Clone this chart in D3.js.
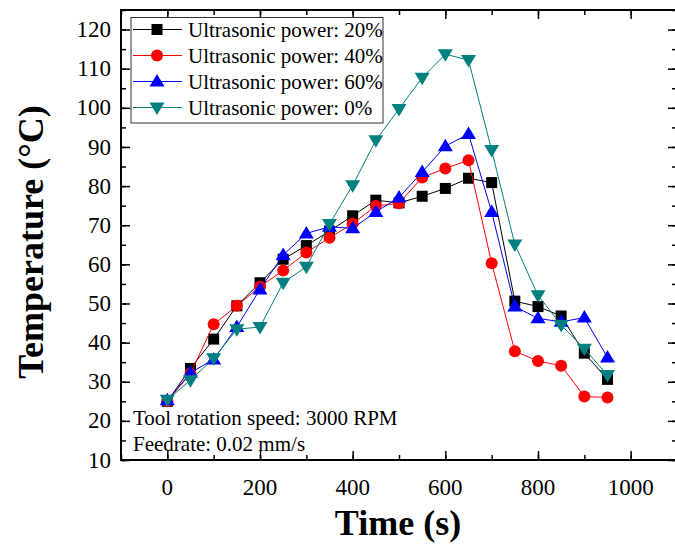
<!DOCTYPE html>
<html>
<head>
<meta charset="utf-8">
<script src="https://cdn.jsdelivr.net/npm/d3@7/dist/d3.min.js"></script>
<style>
  body { margin: 0; background: #fff; }
  svg { display: block; font-family: "Liberation Serif", "Times New Roman", serif; }
</style>
</head>
<body>
<svg id="chart" width="675" height="550"></svg>
<script>
// time (s)
var times = [0, 50, 100, 150, 200, 250, 300, 350, 400, 450, 500, 550, 600, 650, 700, 750, 800, 850, 900, 950];

var power20 = [25, 33.4, 40.9, 49.4, 55.3, 61.3, 64.8, 68.5, 72.4, 76.4, 75.7, 77.4, 79.4, 82, 80.9, 50.6, 49.2, 46.8, 37.3, 30.6];
var power40 = [25, 32.1, 44.7, 49.4, 54.3, 58.4, 63, 66.8, 70.4, 74.9, 75.6, 82.2, 84.5, 86.6, 60.3, 37.8, 35.3, 34.1, 26.2, 26];
var power60 = [25.3, 32.3, 35.7, 44, 53.6, 62.4, 67.9, 69.6, 69.2, 73.4, 77.1, 83.6, 90.2, 93.3, 73.4, 49.2, 46.2, 45.3, 46.4, 36.2];
var power0  = [25.4, 30.4, 36, 43.4, 44, 55.3, 59.4, 70.3, 80.2, 91.7, 99.7, 107.7, 113.7, 112.2, 89.2, 65.1, 52.1, 44.5, 38.4, 31.7];

var seriesNames = ["Ultrasonic power: 20%", "Ultrasonic power: 40%", "Ultrasonic power: 60%", "Ultrasonic power: 0%"];
var seriesColors = ["#000000", "#ff0000", "#0000ff", "#008080"];
var seriesSymbols = ["square", "circle", "triangle", "triangleDown"];

var xTicks = [0, 200, 400, 600, 800, 1000];
var yTicks = [10, 20, 30, 40, 50, 60, 70, 80, 90, 100, 110, 120];

var notes = ["Tool rotation speed: 3000 RPM", "Feedrate: 0.02 mm/s"];

drawChart();

function drawChart() {

    var svg = d3.select("#chart"),
        plotLeft = 121, plotRight = 677, plotTop = 10, plotBottom = 460;

    var x = d3.scaleLinear().domain([-100, 1100]).range([plotLeft, plotRight]);
    var y = d3.scaleLinear().domain([10, 125]).range([plotBottom, plotTop]);

    var series = [power20, power40, power60, power0].map(function (vals, i) {
        return {
            name: seriesNames[i], color: seriesColors[i], symbol: seriesSymbols[i],
            points: vals.map(function (v, j) { return {t: times[j], v: v}; })
        };
    });

    // axes, ticks pointing inward on all four sides
    var xMinor = d3.range(-100, 1101, 100);
    var yMinor = d3.range(10, 126, 5);

    svg.append("g")
        .attr("transform", "translate(0," + plotBottom + ")")
        .call(d3.axisTop(x).tickValues(xMinor).tickSize(5).tickFormat(""));
    svg.append("g")
        .attr("transform", "translate(0," + plotBottom + ")")
        .call(d3.axisTop(x).tickValues(xTicks).tickSize(9).tickFormat(""));
    svg.append("g")
        .attr("transform", "translate(0," + plotTop + ")")
        .call(d3.axisBottom(x).tickValues(xMinor).tickSize(5).tickFormat(""));
    svg.append("g")
        .attr("transform", "translate(0," + plotTop + ")")
        .call(d3.axisBottom(x).tickValues(xTicks).tickSize(9).tickFormat(""));

    svg.append("g")
        .attr("transform", "translate(" + plotLeft + ",0)")
        .call(d3.axisRight(y).tickValues(yMinor).tickSize(5).tickFormat(""));
    svg.append("g")
        .attr("transform", "translate(" + plotLeft + ",0)")
        .call(d3.axisRight(y).tickValues(yTicks).tickSize(9).tickFormat(""));
    svg.append("g")
        .attr("transform", "translate(" + plotRight + ",0)")
        .call(d3.axisLeft(y).tickValues(yMinor).tickSize(5).tickFormat(""));
    svg.append("g")
        .attr("transform", "translate(" + plotRight + ",0)")
        .call(d3.axisLeft(y).tickValues(yTicks).tickSize(9).tickFormat(""));

    svg.selectAll(".domain").remove();
    svg.selectAll(".tick line").attr("stroke", "#000").attr("stroke-width", 1.5);

    // tick labels
    svg.append("g").selectAll("text")
        .data(xTicks)
        .enter().append("text")
        .attr("x", function (d) { return x(d); })
        .attr("y", 495)
        .attr("text-anchor", "middle")
        .attr("font-size", 23)
        .text(function (d) { return d; });

    svg.append("g").selectAll("text")
        .data(yTicks)
        .enter().append("text")
        .attr("x", 111)
        .attr("y", function (d) { return y(d); })
        .attr("dy", "0.33em")
        .attr("text-anchor", "end")
        .attr("font-size", 23)
        .text(function (d) { return d; });

    // frame
    svg.append("rect")
        .attr("x", plotLeft).attr("y", plotTop)
        .attr("width", plotRight - plotLeft).attr("height", plotBottom - plotTop)
        .attr("fill", "none").attr("stroke", "#000").attr("stroke-width", 2);

    // titles
    svg.append("text")
        .attr("x", 398).attr("y", 535)
        .attr("text-anchor", "middle")
        .attr("font-size", 36).attr("font-weight", "bold")
        .text("Time (s)");

    svg.append("text")
        .attr("transform", "translate(43,242) rotate(-90)")
        .attr("text-anchor", "middle")
        .attr("font-size", 36).attr("font-weight", "bold")
        .text("Temperature (\u00B0C)");

    // markers
    function marker(sel, symbol, color) {
        if (symbol === "square") {
            sel.append("rect").attr("x", -5.5).attr("y", -5.5).attr("width", 11).attr("height", 11).attr("fill", color);
        } else if (symbol === "circle") {
            sel.append("circle").attr("r", 6).attr("fill", color);
        } else if (symbol === "triangle") {
            sel.append("path").attr("d", "M0,-7.5L7.5,5L-7.5,5Z").attr("fill", color);
        } else {
            sel.append("path").attr("d", "M0,7.5L7.5,-5L-7.5,-5Z").attr("fill", color);
        }
    }

    var line = d3.line()
        .x(function (d) { return x(d.t); })
        .y(function (d) { return y(d.v); });

    series.forEach(function (s) {
        var g = svg.append("g");
        g.append("path")
            .datum(s.points)
            .attr("fill", "none")
            .attr("stroke", s.color)
            .attr("stroke-width", 1)
            .attr("d", line);
        g.selectAll("g.pt")
            .data(s.points)
            .enter().append("g")
            .attr("class", "pt")
            .attr("transform", function (d) { return "translate(" + x(d.t) + "," + y(d.v) + ")"; })
            .each(function () { marker(d3.select(this), s.symbol, s.color); });
    });

    // notes
    svg.append("g").selectAll("text")
        .data(notes)
        .enter().append("text")
        .attr("x", 133)
        .attr("y", function (d, i) { return 425 + i * 26; })
        .attr("font-size", 21)
        .text(function (d) { return d; });

    // legend
    var legend = svg.append("g");
    legend.append("rect")
        .attr("x", 131).attr("y", 17.5)
        .attr("width", 252).attr("height", 105.5)
        .attr("fill", "#fff").attr("stroke", "#333").attr("stroke-width", 1);

    series.forEach(function (s, i) {
        var ly = 29.5 + i * 26;
        legend.append("line")
            .attr("x1", 133).attr("x2", 182)
            .attr("y1", ly).attr("y2", ly)
            .attr("stroke", s.color).attr("stroke-width", 1);
        marker(legend.append("g").attr("transform", "translate(157," + ly + ")"), s.symbol, s.color);
        legend.append("text")
            .attr("x", 188).attr("y", ly)
            .attr("dy", "0.35em")
            .attr("font-size", 21)
            .text(s.name);
    });
}
</script>
</body>
</html>
